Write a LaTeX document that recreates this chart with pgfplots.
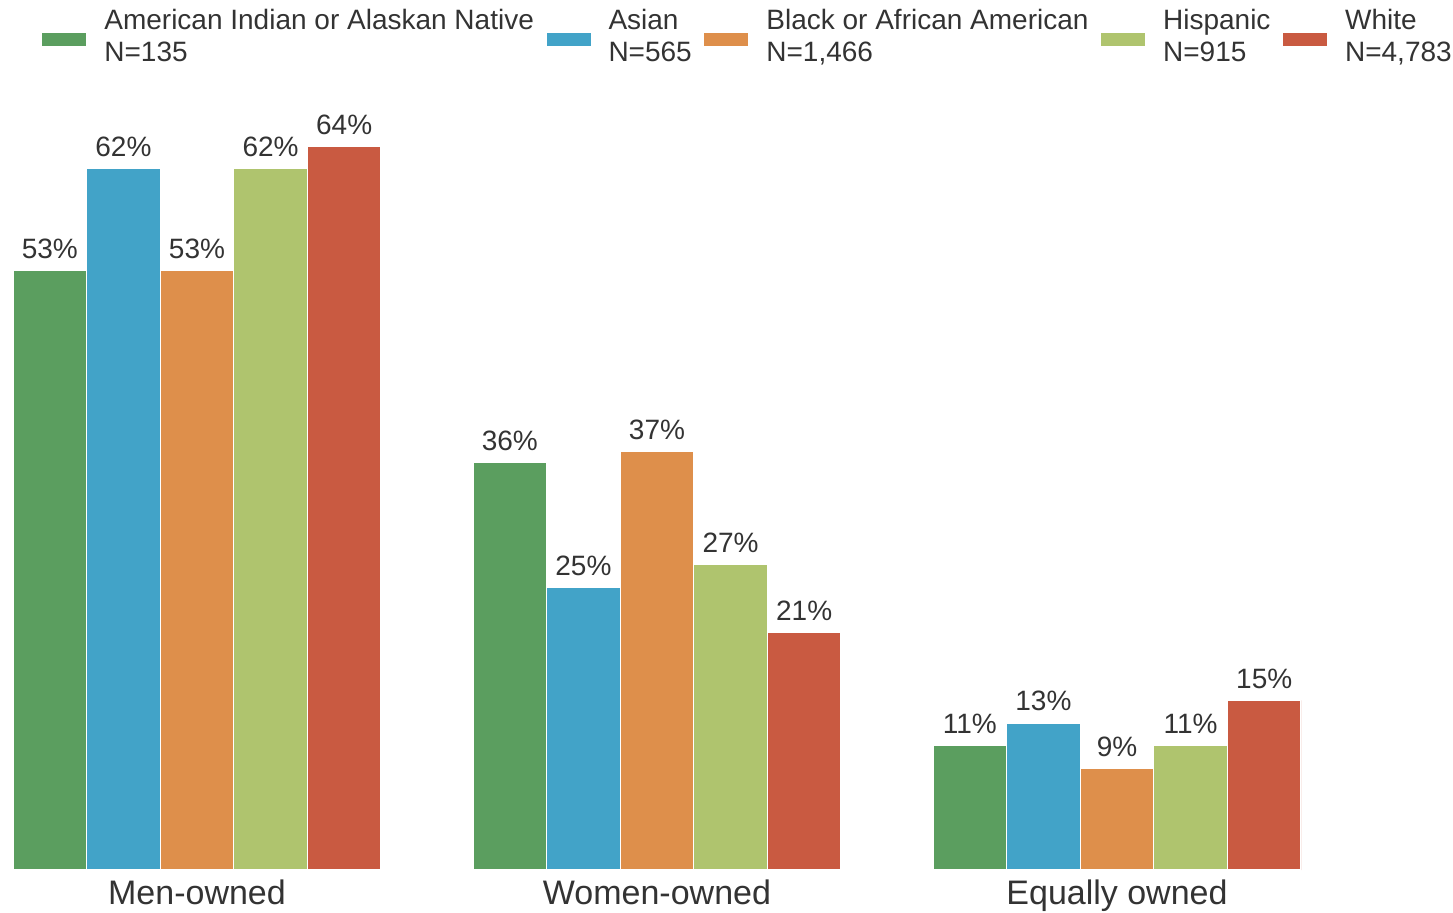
\documentclass[border=0pt]{standalone}
\usepackage{pgfplots}
\pgfplotsset{compat=1.18}
\usepackage{fontspec}
\setmainfont{Liberation Sans}
\definecolor{cA}{HTML}{5B9E5F}
\definecolor{cB}{HTML}{42A3C8}
\definecolor{cC}{HTML}{DE8F4B}
\definecolor{cD}{HTML}{AFC46E}
\definecolor{cE}{HTML}{C95A41}
\definecolor{txt}{HTML}{333333}
\begin{document}
\begin{tikzpicture}
\useasboundingbox (-6.5pt,-21pt) rectangle (720pt,435pt);
\begin{axis}[
  at={(0,0)}, anchor=south west,
  scale only axis, width=644pt, height=435pt,
  xmin=-0.4, xmax=2.4, ymin=0, ymax=76.92,
  axis line style={draw=none},
  major tick length=0pt,
  ytick=\empty,
  xtick={0,1,2},
  xticklabels={Men-owned,Women-owned,Equally owned},
  xticklabel style={font=\fontsize{17}{20}\selectfont, text=txt, inner sep=0pt, anchor=base, yshift=-17pt},
  ybar=0pt, bar width=36.8pt,
  every axis plot/.append style={draw=white, line width=0.6pt},
  /pgf/number format/assume math mode=true,
  nodes near coords={\pgfmathprintnumber{\pgfplotspointmeta}\%},
  every node near coord/.append style={font=\fontsize{14}{16}\selectfont, text=txt, anchor=base, inner sep=0pt, yshift=6pt},
  legend columns=5,
  legend style={at={(axis description cs:0.0225,1)}, anchor=north west, yshift=-4.5pt, draw=none, fill=none, inner sep=0pt,
    font=\fontsize{14}{16}\selectfont, text=txt,
    nodes={inner sep=0pt, align=left},
    /tikz/every odd column/.append style={column sep=9pt},
    /tikz/every even column/.append style={column sep=6.3pt}},
  legend image code/.code={\fill[#1, draw=none] (0pt,-4.5pt) rectangle (22pt,2pt);},
]
\addplot[fill=cA] coordinates {(0,53) (1,36) (2,11)};
\addlegendentry{American Indian or Alaskan Native\\N=135}
\addplot[fill=cB] coordinates {(0,62) (1,25) (2,13)};
\addlegendentry{Asian\\N=565}
\addplot[fill=cC] coordinates {(0,53) (1,37) (2,9)};
\addlegendentry{Black or African American\\N=1,466}
\addplot[fill=cD] coordinates {(0,62) (1,27) (2,11)};
\addlegendentry{Hispanic\\N=915}
\addplot[fill=cE] coordinates {(0,64) (1,21) (2,15)};
\addlegendentry{White\\N=4,783}
\end{axis}
\end{tikzpicture}
\end{document}
